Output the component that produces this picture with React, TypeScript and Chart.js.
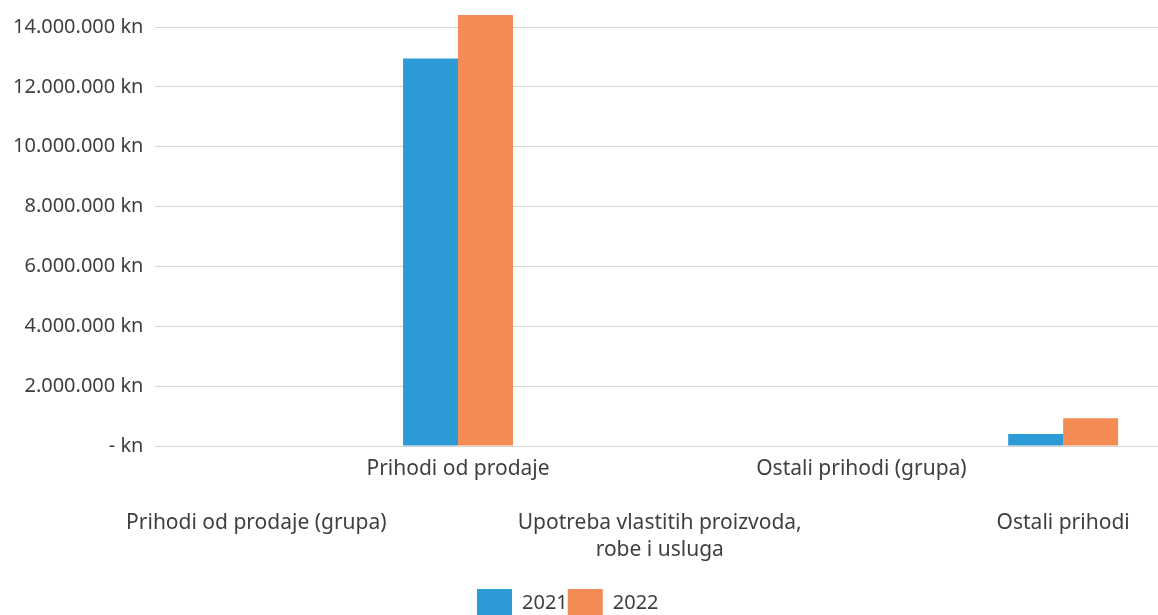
import React, { useEffect, useRef } from "react";
import { Chart, registerables } from "chart.js";

Chart.register(...registerables);

// ---- data ----
const categories: string[][] = [
  ["", "", "Prihodi od prodaje (grupa)"],
  ["Prihodi od prodaje"],
  ["", "", "Upotreba vlastitih proizvoda,", "robe i usluga"],
  ["Ostali prihodi (grupa)"],
  ["", "", "Ostali prihodi"],
];
const seriesNames = ["2021", "2022"];
const values2021 = [0, 12950000, 0, 0, 400000];
const values2022 = [0, 14400000, 0, 0, 930000];
const yTickValues = [0, 2000000, 4000000, 6000000, 8000000, 10000000, 12000000, 14000000];

// ---- styling ----
const BLUE = "#2b9ad5";
const ORANGE = "#f58b54";
const TEXT = "#3f3f3f";
const GRID = "#d6d6d6";
const FONT = "'Noto Sans', sans-serif";
const CANVAS_W = 1164;
const CANVAS_H = 632;
const LEGEND_X = 477;
const LEGEND_DY = 15;

function formatKn(v: number): string {
  if (v === 0) return "- kn";
  const s = Math.round(v).toString().replace(/\B(?=(\d{3})+(?!\d))/g, ".");
  return s + " kn";
}

const legendShift = {
  id: "legendShift",
  afterLayout(chart: any) {
    const l = chart.legend;
    if (!l) return;
    const pad = l.options.labels.padding || 0;
    const dx = LEGEND_X - (l.left + pad);
    l.left += dx;
    l.right += dx;
    l.top += LEGEND_DY;
    l.bottom += LEGEND_DY;
  },
};

export default function App() {
  const ref = useRef<HTMLCanvasElement | null>(null);

  useEffect(() => {
    if (!ref.current) return;
    const chart = new Chart(ref.current, {
      type: "bar",
      data: {
        labels: categories,
        datasets: [
          {
            label: seriesNames[0],
            data: values2021,
            backgroundColor: BLUE,
            categoryPercentage: 0.545,
            barPercentage: 1,
          },
          {
            label: seriesNames[1],
            data: values2022,
            backgroundColor: ORANGE,
            categoryPercentage: 0.545,
            barPercentage: 1,
          },
        ],
      },
      options: {
        animation: false,
        responsive: false,
        devicePixelRatio: 1,
        layout: { padding: { left: 1, right: 0, top: 0, bottom: 20 } },
        plugins: {
          tooltip: { enabled: false },
          legend: {
            position: "bottom",
            align: "start",
            labels: {
              boxWidth: 35,
              boxHeight: 28,
              padding: 0,
              color: TEXT,
              font: { family: FONT, size: 20 },
            },
          },
        },
        scales: {
          x: {
            grid: { display: false, drawTicks: false },
            border: { display: false },
            ticks: {
              autoSkip: false,
              maxRotation: 0,
              minRotation: 0,
              padding: 10,
              color: TEXT,
              font: { family: FONT, size: 21, lineHeight: 27 / 21 },
            },
          },
          y: {
            min: 0,
            max: 14470000,
            afterBuildTicks: (axis: any) => {
              axis.ticks = yTickValues.map((v) => ({ value: v }));
            },
            grid: { color: GRID, lineWidth: 1, drawTicks: false },
            border: { display: false },
            ticks: {
              padding: 12,
              color: TEXT,
              font: { family: FONT, size: 20, lineHeight: 0.1 },
              callback: (v: any) => formatKn(Number(v)),
            },
          },
        },
      },
      plugins: [legendShift],
    });
    return () => chart.destroy();
  }, []);

  return (
    <div
      style={{
        position: "fixed",
        left: 0,
        top: 0,
        width: 1158,
        height: 615,
        overflow: "hidden",
        background: "#ffffff",
      }}
    >
      <canvas
        ref={ref}
        width={CANVAS_W}
        height={CANVAS_H}
        style={{ display: "block", width: CANVAS_W, height: CANVAS_H }}
      />
    </div>
  );
}
